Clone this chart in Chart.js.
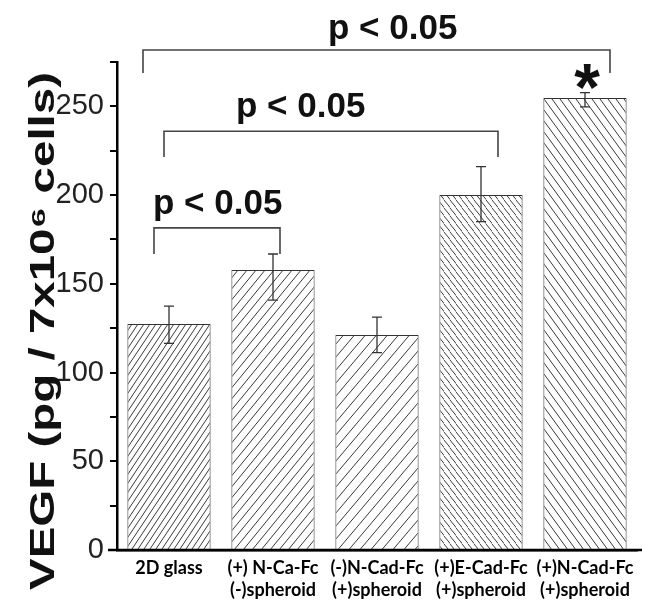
<!DOCTYPE html>
<html>
<head>
<meta charset="utf-8">
<script src="https://cdn.jsdelivr.net/npm/chart.js"></script>
<style>
  body { margin: 0; background: #fff; }
</style>
</head>
<body>
<canvas id="myChart" width="645" height="600"></canvas>
<script>

// values
let categorias = [
  ['2D glass'],
  ['(+) N-Ca-Fc', '(-)spheroid'],
  ['(-)N-Cad-Fc', '(+)spheroid'],
  ['(+)E-Cad-Fc', '(+)spheroid'],
  ['(+)N-Cad-Fc', '(+)spheroid']
]
let vegf = [127.4, 157.8, 121.2, 200, 254.7]
let errArriba = [10, 9, 10, 16, 3]
let errAbajo = [11, 17, 10, 15, 5]

let ejeMin = 0
let ejeMax = 275
let paso = 25
let tituloY = 'VEGF (pg / 7x10⁶ cells)'

// significance brackets (category index, y in data units)
let llaves = [
  { desde: 0, hasta: 1, dxDesde: -15, dxHasta: 7, arriba: 181.5, pata: 166.8 },
  { desde: 0, hasta: 3, dxDesde: -5, dxHasta: 17, arriba: 236, pata: 221.5 },
  { desde: 0, hasta: 4, dxDesde: -26, dxHasta: 25, arriba: 281.8, pata: 268.8 }
]
let textos = [
  { texto: 'p < 0.05', cat: 0, dx: -16, y: 189.3 },
  { texto: 'p < 0.05', cat: 1, dx: -37, y: 244 },
  { texto: 'p < 0.05', cat: 2, dx: -49, y: 288 }
]
let asterisco = { cat: 4, dx: 2, y: 259.8 }

// hatch styles for each bar: direction, spacing, steepness
let rayado = [
  { dir: '/', sep: 6, alto: 9 },
  { dir: '/', sep: 9, alto: 11 },
  { dir: '/', sep: 11, alto: 13 },
  { dir: '\\', sep: 6.5, alto: 8 },
  { dir: '\\', sep: 8, alto: 11 }
]

function hacerRayado(r) {
  var c = document.createElement('canvas');
  c.width = r.sep;
  c.height = r.alto;
  var g = c.getContext('2d');
  g.fillStyle = '#fff';
  g.fillRect(0, 0, r.sep, r.alto);
  g.strokeStyle = '#3a3a3a';
  g.lineWidth = 1;
  for (var k = -1; k <= 1; k++) {
    var o = k * r.sep;
    g.beginPath();
    if (r.dir == '/') {
      g.moveTo(o - r.sep, 2 * r.alto);
      g.lineTo(o + 2 * r.sep, -r.alto);
    } else {
      g.moveTo(o - r.sep, -r.alto);
      g.lineTo(o + 2 * r.sep, 2 * r.alto);
    }
    g.stroke();
  }
  return g.createPattern(c, 'repeat');
}

const extras = {
  id: 'extras',
  afterDatasetsDraw(chart) {
    const ctx = chart.ctx;
    const x = chart.scales.x;
    const y = chart.scales.y;
    ctx.save();

    // error bars
    ctx.strokeStyle = '#333';
    ctx.lineWidth = 1.3;
    vegf.forEach((v, i) => {
      let px = x.getPixelForValue(i);
      let hi = y.getPixelForValue(v + errArriba[i]);
      let lo = y.getPixelForValue(v - errAbajo[i]);
      ctx.beginPath();
      ctx.moveTo(px, hi); ctx.lineTo(px, lo);
      ctx.moveTo(px - 5, hi); ctx.lineTo(px + 5, hi);
      ctx.moveTo(px - 5, lo); ctx.lineTo(px + 5, lo);
      ctx.stroke();
    });

    // brackets
    ctx.strokeStyle = '#444';
    ctx.lineWidth = 1.6;
    llaves.forEach(l => {
      let x1 = x.getPixelForValue(l.desde) + l.dxDesde;
      let x2 = x.getPixelForValue(l.hasta) + l.dxHasta;
      let yt = y.getPixelForValue(l.arriba);
      let yp = y.getPixelForValue(l.pata);
      ctx.beginPath();
      ctx.moveTo(x1, yp);
      ctx.lineTo(x1, yt);
      ctx.lineTo(x2, yt);
      ctx.lineTo(x2, yp);
      ctx.stroke();
    });

    // p values
    ctx.fillStyle = '#111';
    ctx.font = 'bold 35px "Liberation Sans", Arial, sans-serif';
    ctx.textAlign = 'left';
    ctx.textBaseline = 'alphabetic';
    textos.forEach(t => {
      ctx.fillText(t.texto, x.getPixelForValue(t.cat) + t.dx, y.getPixelForValue(t.y));
    });

    // asterisk
    ctx.font = 'bold 66px "Liberation Sans", Arial, sans-serif';
    ctx.textAlign = 'center';
    let m = ctx.measureText('*');
    let base = y.getPixelForValue(asterisco.y) - m.actualBoundingBoxDescent;
    ctx.fillText('*', x.getPixelForValue(asterisco.cat) + asterisco.dx, base);

    // x axis line runs a little past both ends
    ctx.strokeStyle = '#000';
    ctx.lineWidth = 2.5;
    ctx.beginPath();
    ctx.moveTo(x.left - 9, y.bottom);
    ctx.lineTo(x.right + 5, y.bottom);
    ctx.stroke();

    // y axis title, stretched along its length like the original
    ctx.font = 'bold 35px "Liberation Sans", Arial, sans-serif';
    let largo = ctx.measureText(tituloY).width;
    ctx.translate(54, 331);
    ctx.rotate(-Math.PI / 2);
    ctx.scale(518 / largo, 1);
    ctx.textAlign = 'center';
    ctx.textBaseline = 'alphabetic';
    ctx.fillText(tituloY, 0, 0);

    ctx.restore();
  }
};

var data = {
  labels: categorias,
  datasets: [{
    label: 'VEGF',
    data: vegf,
    backgroundColor: rayado.map(hacerRayado),
    borderColor: '#333',
    borderWidth: 1,
    barPercentage: 0.8,
    categoryPercentage: 1
  }]
};

const config = {
  type: 'bar',
  data: data,
  options: {
    responsive: false,
    animation: false,
    layout: { padding: { top: 62, right: 8, left: 0, bottom: 0 } },
    plugins: {
      legend: { display: false },
      tooltip: { enabled: false }
    },
    scales: {
      x: {
        grid: { display: false, drawTicks: false },
        border: { display: true, color: '#000', width: 2.5 },
        ticks: {
          color: '#000',
          padding: 7,
          maxRotation: 0,
          autoSkip: false,
          font: { family: 'Lato, "Open Sans", sans-serif', weight: 'bold', size: 18, lineHeight: 1.22 }
        },
        afterFit: s => { s.height = 50 }
      },
      y: {
        min: ejeMin,
        max: ejeMax,
        grid: { drawOnChartArea: false, drawTicks: true, tickLength: 7, color: '#000', lineWidth: 2 },
        border: { display: true, color: '#000', width: 2.5 },
        ticks: {
          stepSize: paso,
          color: '#222',
          padding: 6,
          font: { family: '"Liberation Sans", Arial, sans-serif', size: 29 },
          callback: v => (v % 50 == 0 ? v : '')
        },
        title: { display: false },
        afterFit: s => { s.width = 117 }
      }
    }
  },
  plugins: [extras]
};

window.onload = function () {
  var myChart = new Chart(document.getElementById('myChart'), config);
}
</script>
</body>
</html>
